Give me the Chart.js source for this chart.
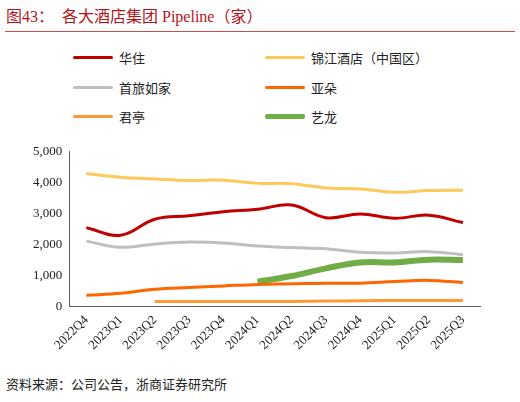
<!DOCTYPE html>
<html><head><meta charset="utf-8">
<script src="https://cdn.jsdelivr.net/npm/chart.js@4"></script>
<style>
body{margin:0;width:520px;height:402px;background:#fff;position:relative;font-family:"Noto Sans CJK SC",sans-serif;overflow:hidden}
#title{position:absolute;left:6px;top:3px;font-size:16px;color:#b5121b;font-family:"Liberation Serif","Noto Sans CJK SC",serif}
#rule{position:absolute;left:5px;top:31px;width:510px;height:1px;background:#c0504d}
.lg{position:absolute;font-size:13px;color:#222;display:flex;align-items:center}
.lg span{display:inline-block;width:40px;margin-right:6px}
#src{position:absolute;left:6px;top:374px;font-size:13px;color:#222}
#wrap{position:absolute;left:0;top:141px;width:520px;height:214px}
</style></head><body>
<div id="title">图43：&nbsp;&nbsp;各大酒店集团 Pipeline（家）</div>
<div id="rule"></div>
<div id="legend"></div>
<div id="wrap"><canvas id="c"></canvas></div>
<div id="src">资料来源：公司公告，浙商证券研究所</div>
<script>
const categories=["2022Q4","2023Q1","2023Q2","2023Q3","2023Q4","2024Q1","2024Q2","2024Q3","2024Q4","2025Q1","2025Q2","2025Q3"];
const huazhu=[2540,2300,2820,2930,3060,3140,3280,2870,2990,2850,2950,2710];
const jinjiang=[4300,4180,4120,4070,4080,3980,3970,3830,3800,3690,3750,3760];
const shoulv=[2110,1910,2020,2080,2050,1950,1900,1860,1750,1730,1770,1670];
const yaduo=[360,420,550,610,660,710,730,750,750,800,840,770];
const junting=[null,null,160,160,160,160,160,170,180,190,190,190];
const yilong=[null,null,null,null,null,800,980,1230,1420,1420,1510,1500];
const yTicks=[0,1000,2000,3000,4000,5000];
const series=[
 {label:"华住",data:huazhu,color:"#c00000",w:3},
 {label:"锦江酒店（中国区）",data:jinjiang,color:"#ffc85a",w:3},
 {label:"首旅如家",data:shoulv,color:"#bfbfbf",w:3},
 {label:"亚朵",data:yaduo,color:"#ff6600",w:3},
 {label:"君亭",data:junting,color:"#ff9933",w:3},
 {label:"艺龙",data:yilong,color:"#70ad47",w:6}
];
const lgPos=[[73,48],[265,48],[73,78],[265,78],[73,107],[265,107]];
const L=document.getElementById('legend');
series.forEach((s,i)=>{const d=document.createElement('div');d.className='lg';d.style.left=lgPos[i][0]+'px';d.style.top=lgPos[i][1]+'px';
d.innerHTML='<span style="height:'+(s.w===6?5:3)+'px;background:'+s.color+';border-radius:2px"></span>'+s.label;L.appendChild(d);});
new Chart(document.getElementById('c'),{type:'line',
data:{labels:categories,datasets:series.map(s=>({label:s.label,data:s.data,borderColor:s.color,backgroundColor:s.color,borderWidth:s.w,pointRadius:0,tension:0.4,spanGaps:false}))},
options:{responsive:true,maintainAspectRatio:false,animation:false,
layout:{padding:{left:30,right:40,top:8,bottom:0}},
plugins:{legend:{display:false},tooltip:{enabled:false}},
scales:{
x:{grid:{display:false,drawTicks:true,tickLength:4,color:'#595959'},border:{color:'#595959'},offset:true,
ticks:{color:'#222',font:{family:"Liberation Serif",size:13},maxRotation:45,minRotation:45,padding:2}},
y:{min:0,max:5000,afterBuildTicks:a=>{a.ticks=yTicks.map(v=>({value:v}));},grid:{display:false,tickLength:4,color:'#595959'},border:{color:'#595959'},
ticks:{color:'#222',font:{family:"Liberation Serif",size:13},callback:v=>v.toLocaleString('en-US')}}
}}});
</script></body></html>
